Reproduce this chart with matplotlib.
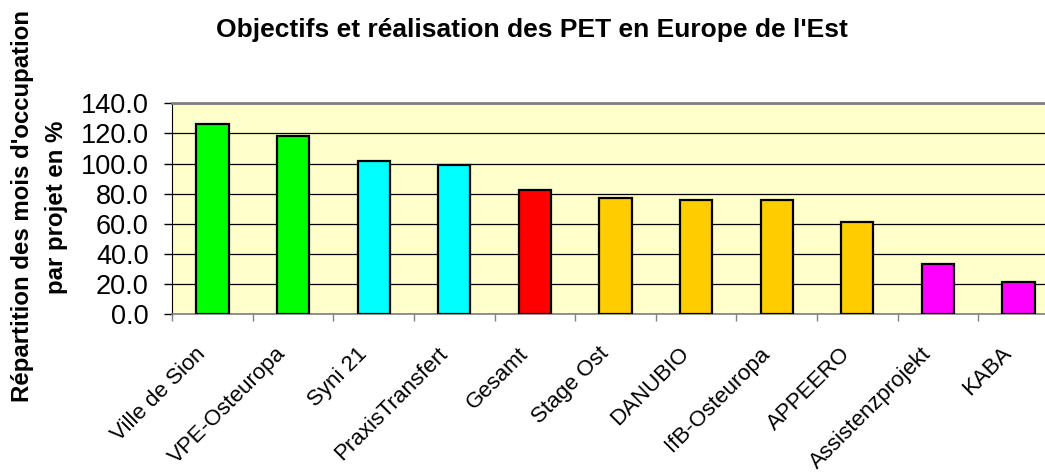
import matplotlib
matplotlib.use('Agg')
import matplotlib.pyplot as plt
import matplotlib.transforms as mtransforms
import numpy as np

plt.rcParams['font.family'] = ['Liberation Sans', 'DejaVu Sans']

# données
projets = ['Ville de Sion', 'VPE-Osteuropa', 'Syni 21', 'PraxisTransfert', 'Gesamt',
           'Stage Ost', 'DANUBIO', 'IfB-Osteuropa', 'APPEERO', 'Assistenzprojekt', 'KABA']
taux = [126.3, 118.3, 101.9, 99.1, 82.3, 77.0, 76.1, 75.6, 61.2, 33.4, 21.7]
couleurs = ['#00FF00', '#00FF00', '#00FFFF', '#00FFFF', '#FF0000',
            '#FFCC00', '#FFCC00', '#FFCC00', '#FFCC00', '#FF00FF', '#FF00FF']
yticks = [0, 20, 40, 60, 80, 100, 120, 140]

W, H = 1045, 472
fig = plt.figure(figsize=(W / 100, H / 100), dpi=100)
# l'axe dépasse à droite comme dans l'original (coupé)
ax = fig.add_axes([172.3 / W, 1 - 314.3 / H, 886.4 / W, 211 / H])
ax.set_facecolor('#FFFFCC')

x = np.arange(len(projets))
ax.bar(x, taux, width=0.4, color=couleurs, edgecolor='black', linewidth=1.6, zorder=3)

ax.set_xlim(-0.5, len(projets) - 0.5)
ax.set_ylim(0, 140)
ax.set_yticks(yticks)
ax.set_yticklabels([f'{v:.1f}' for v in yticks], fontsize=19.5)
ax.tick_params(axis='y', direction='out', length=6, width=1, color='black', pad=11)

# étiquettes au centre, petits traits aux séparations
ax.set_xticks(x)
ax.set_xticklabels(projets, rotation=45, ha='right', va='center',
                   rotation_mode='anchor', fontsize=16)
ax.tick_params(axis='x', which='major', length=0, pad=16)
ax.set_xticks(np.arange(len(projets) + 1) - 0.5, minor=True)
ax.tick_params(axis='x', which='minor', direction='out', length=5, width=1, color='#808080')
# décalage des étiquettes (vers la gauche et le bas)
decal = mtransforms.ScaledTranslation(-0.10, -0.14, fig.dpi_scale_trans)
for lab in ax.get_xticklabels():
    lab.set_transform(lab.get_transform() + decal)

ax.grid(True, axis='y', color='black', linewidth=0.9, zorder=1)
ax.set_axisbelow(True)
ax.spines['left'].set_color('black')
ax.spines['bottom'].set_color('#808080')
ax.spines['bottom'].set_linewidth(1.2)
ax.spines['top'].set_color('#808080')
ax.spines['top'].set_linewidth(2)
ax.spines['right'].set_visible(False)

fig.text(532 / W, 1 - 30 / H, "Objectifs et réalisation des PET en Europe de l'Est",
         ha='center', va='center', fontsize=19, fontweight='bold')
fig.text(23 / W, 1 - 206 / H, "Répartition des mois d'occupation",
         rotation=90, ha='center', va='center', fontsize=17.3, fontweight='bold')
fig.text(56 / W, 1 - 207 / H, "par projet en %",
         rotation=90, ha='center', va='center', fontsize=17.3, fontweight='bold')

fig.savefig('out.png', dpi=100)
